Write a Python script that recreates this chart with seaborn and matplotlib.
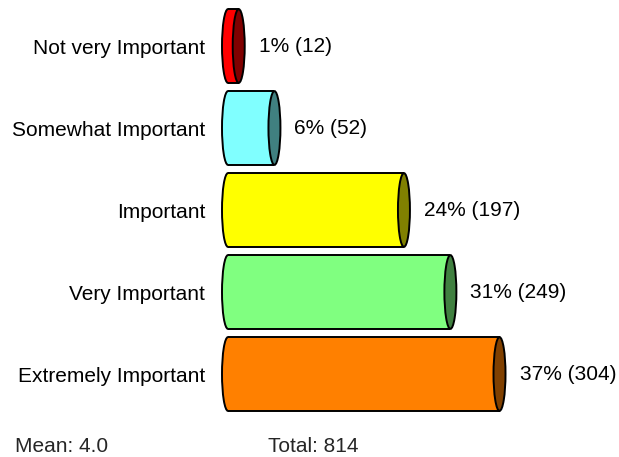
import numpy as np
import pandas as pd
import seaborn as sns
import matplotlib.pyplot as plt
from matplotlib.patches import Ellipse

# data
categories = ['Not very Important', 'Somewhat Important', 'Important',
              'Very Important', 'Extremely Important']
counts = [12, 52, 197, 249, 304]
scores = [1, 2, 3, 4, 5]
body_colors = ['#FF0000', '#80FFFF', '#FFFF00', '#80FF80', '#FF8000']
end_colors = ['#800000', '#408080', '#808000', '#408040', '#804000']

total = sum(counts)
pct = [c / total * 100 for c in counts]
mean = np.dot(counts, scores) / total
df = pd.DataFrame({'cat': categories, 'pct': pct, 'n': counts})

sns.set_theme(style='white')
plt.rcParams['font.family'] = ['Liberation Sans', 'DejaVu Sans']

fig = plt.figure(figsize=(6.19, 4.57), dpi=100)
ax = fig.add_axes([228 / 619, 42 / 457, 391 / 619, 410 / 457])

sns.barplot(data=df, x='pct', y='cat', hue='cat', palette=body_colors,
            legend=False, width=0.9, linewidth=0, saturation=1,
            orient='h', ax=ax)

ax.set_xlim(0, 391 / 7.27)
ax.set_ylim(4.5, -0.5)
ew = 12 / 7.27  # ellipse width in data units
for i, p in enumerate(ax.patches[:len(categories)]):
    w = p.get_width()
    h = p.get_height()
    yc = p.get_y() + h / 2
    p.set_zorder(2)
    ax.add_patch(Ellipse((0, yc), ew, h, facecolor=body_colors[i],
                         edgecolor='black', lw=1.4, zorder=1, clip_on=False))
    ax.hlines([yc - h / 2, yc + h / 2], 0, w, colors='black', lw=1.4,
              zorder=3, clip_on=False)
    ax.add_patch(Ellipse((w, yc), ew, h, facecolor=end_colors[i],
                         edgecolor='black', lw=1.4, zorder=4, clip_on=False))
    ax.annotate('{:.0f}% ({})'.format(pct[i], counts[i]), (w, yc),
                xytext=(20, 0), textcoords='offset pixels', va='center',
                ha='left', fontsize=15, color='black', annotation_clip=False,
                clip_on=False)

ax.set(xlabel=None, ylabel=None, xticks=[])
ax.tick_params(axis='y', length=0, pad=16.5, labelsize=15, labelcolor='black')
sns.despine(ax=ax, left=True, bottom=True)

fig.text(15 / 619, 1 - 447 / 457, 'Mean: {:.1f}'.format(mean), fontsize=15,
         va='center', ha='left')
fig.text(268 / 619, 1 - 447 / 457, 'Total: {}'.format(total), fontsize=15,
         va='center', ha='left')

plt.savefig('out.png', dpi=100)
